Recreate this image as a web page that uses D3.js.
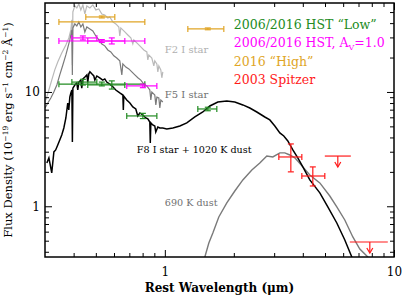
<!DOCTYPE html>
<html>
<head>
<meta charset="utf-8">
<script src="https://cdn.jsdelivr.net/npm/d3@7"></script>
<style>
  html, body { margin: 0; padding: 0; background: #fff; }
  svg text { font-family: "DejaVu Serif", serif; }
</style>
</head>
<body>
<div id="chart"></div>
<script>
// ==============================
// DATA  (wavelength in micron, flux in 1e-19 erg/s/cm2/A)
// ==============================

// model spectra: [wavelength, flux]
const f2Spectrum = [
  [0.3026, 8.5], [0.3118, 10.4], [0.321, 12.7], [0.331, 15.6], [0.341, 18.3], [0.355, 21.9],
  [0.370, 25.8], [0.3813, 29.7], [0.389, 34.9], [0.3929, 42.7], [0.3949, 17.2], [0.3969, 50.1],
  [0.4049, 56.6], [0.413, 54.3], [0.4215, 58.9], [0.430, 52.2], [0.439, 57.7], [0.4477, 48.1],
  [0.4567, 56.6], [0.471, 54.3], [0.4852, 57.7], [0.500, 52.2], [0.5152, 53.2], [0.5311, 48.1],
  [0.547, 47.2], [0.5639, 44.4], [0.575, 45.3], [0.593, 41.0], [0.6111, 39.4], [0.6299, 37.0],
  [0.636, 30.9], [0.6427, 36.3], [0.669, 33.5], [0.6896, 31.5], [0.7107, 29.7], [0.725, 26.3],
  [0.7324, 28.5], [0.7625, 26.3], [0.7856, 24.8], [0.8098, 23.3], [0.8347, 22.4], [0.843, 19.1],
  [0.8514, 21.1], [0.8775, 19.8], [0.8953, 16.9], [0.904, 18.7], [0.923, 17.6], [0.9322, 15.0],
  [0.9415, 16.9], [0.9605, 15.6], [0.9703, 13.3], [0.980, 15.0]
];

const f5Spectrum = [
  [0.300, 7.24], [0.3087, 8.0], [0.3181, 8.86], [0.3278, 10.0], [0.3379, 11.5], [0.348, 14.1],
  [0.3589, 17.2], [0.370, 21.1], [0.377, 24.3], [0.385, 28.5], [0.389, 31.5], [0.3929, 34.9],
  [0.3949, 14.1], [0.3969, 36.3], [0.4049, 39.4], [0.413, 37.8], [0.4215, 41.0], [0.430, 37.0],
  [0.439, 39.4], [0.4477, 33.5], [0.4567, 37.0], [0.471, 35.6], [0.4852, 34.2], [0.500, 30.9],
  [0.5152, 28.5], [0.5311, 26.3], [0.547, 25.3], [0.5639, 23.3], [0.5812, 22.4], [0.599, 20.7],
  [0.617, 19.8], [0.636, 18.7], [0.6492, 14.1], [0.6558, 17.6], [0.6759, 16.5], [0.6966, 15.9],
  [0.7178, 15.0], [0.740, 14.1], [0.7625, 13.3], [0.7856, 12.7], [0.8098, 11.7], [0.8347, 11.3],
  [0.860, 10.4], [0.8688, 8.5], [0.8775, 10.0], [0.904, 9.4], [0.9136, 7.7], [0.923, 9.0],
  [0.9415, 8.86], [0.951, 7.24], [0.9605, 8.5], [0.980, 8.17]
];

const f8DustModel = [
  [0.3056, 2.39], [0.312, 2.65], [0.321, 1.96], [0.328, 2.99], [0.334, 3.11], [0.341, 3.44],
  [0.348, 3.80], [0.355, 4.21], [0.3625, 4.84], [0.370, 5.92], [0.377, 8.0], [0.381, 6.96],
  [0.385, 9.0], [0.389, 9.8], [0.393, 10.4], [0.395, 3.65], [0.397, 10.8], [0.405, 11.5],
  [0.413, 12.0], [0.417, 10.4], [0.4215, 12.2], [0.430, 12.7], [0.434, 10.8], [0.439, 13.0],
  [0.448, 13.5], [0.457, 14.1], [0.461, 12.2], [0.466, 14.4], [0.471, 15.0], [0.480, 14.4],
  [0.490, 13.8], [0.495, 12.7], [0.505, 13.8], [0.520, 13.3], [0.536, 12.7], [0.547, 13.0],
  [0.558, 12.2], [0.575, 11.7], [0.593, 11.1], [0.611, 10.4], [0.636, 9.8], [0.656, 9.4],
  [0.659, 6.96], [0.662, 9.2], [0.682, 8.5], [0.704, 8.0], [0.725, 7.4], [0.747, 7.1],
  [0.762, 6.17], [0.778, 6.55], [0.802, 6.29], [0.826, 5.92], [0.843, 5.81], [0.860, 5.46],
  [0.864, 3.58], [0.869, 5.36], [0.886, 5.14], [0.904, 5.04], [0.913, 4.47], [0.932, 4.94],
  [0.951, 4.84], [0.980, 4.84], [1.020, 4.75], [1.084, 4.84], [1.163, 5.04], [1.247, 5.36],
  [1.352, 6.04], [1.465, 6.68], [1.572, 7.54], [1.703, 8.17], [1.864, 8.34], [2.020, 8.17],
  [2.190, 7.7], [2.349, 7.24], [2.520, 6.68], [2.731, 6.04], [2.872, 5.69], [3.020, 5.04],
  [3.176, 4.38], [3.305, 4.12], [3.441, 3.73], [3.619, 3.11], [3.804, 2.65], [4.001, 2.21],
  [4.292, 1.70], [4.746, 1.31], [5.143, 0.986], [5.629, 0.714], [6.100, 0.507], [6.546, 0.360],
  [6.745, 0.306]
];

const dust690Model = [
  [1.480, 0.326], [1.495, 0.36], [1.556, 0.477], [1.620, 0.584], [1.720, 0.806], [1.864, 1.07],
  [2.020, 1.36], [2.190, 1.70], [2.397, 2.08], [2.597, 2.39], [2.786, 2.75], [2.960, 2.70],
  [3.176, 2.93], [3.339, 2.93], [3.511, 2.81], [3.692, 2.65], [4.001, 2.21], [4.292, 1.88],
  [4.746, 1.60], [5.247, 1.23], [5.629, 0.986], [6.100, 0.759], [6.612, 0.539], [7.094, 0.423],
  [7.688, 0.36], [7.92, 0.33]
];

// photometry: [wave, waveLo, waveHi, flux, fluxLo, fluxHi]
const hstLow = [
  [0.531, 0.345, 0.818, 11.7, 11.3, 12.2],
  [0.439, 0.393, 0.505, 12.2, 11.5, 12.9],
  [0.587, 0.461, 0.669, 11.5, 10.6, 12.5],
  [0.802, 0.682, 0.923, 6.17, 5.85, 6.5],
  [1.540, 1.393, 1.686, 7.1, 6.85, 7.35]
];
const hstAv = [
  [0.531, 0.345, 0.818, 27.9, 27.1, 28.7],
  [0.439, 0.393, 0.505, 29.7, 28.5, 30.9],
  [0.587, 0.461, 0.669, 27.9, 26.3, 29.7],
  [0.802, 0.682, 0.923, 11.3, 10.9, 11.7]
];
const hstHigh = [
  [0.531, 0.345, 0.818, 41.0, 41.0, 41.0],
  [0.531, 0.452, 0.605, 45.3, 44.4, 46.2],
  [1.540, 1.260, 1.809, 35.6, 35.0, 36.3]
];
const spitzer = [
  [3.547, 3.144, 3.961, 2.70, 2.00, 3.51],
  [4.423, 3.961, 4.990, 1.84, 1.505, 2.21]
];
// upper limits: [wave, waveLo, waveHi, flux]
const spitzerLimits = [
  [5.686, 4.990, 6.480, 2.75],
  [7.843, 6.416, 9.396, 0.487]
];

const xMajor = [1, 10];
const xMinor = [0.4, 0.5, 0.6, 0.7, 0.8, 0.9, 2, 3, 4, 5, 6, 7, 8, 9];
const yMajor = [1, 10];
const yMinor = [0.4, 0.5, 0.6, 0.7, 0.8, 0.9, 2, 3, 4, 5, 6, 7, 8, 9, 20, 30, 40, 50];

const colLow = '#228b22';
const colAv = '#ff00ff';
const colHigh = '#e0a526';
const colSpitzer = '#ff1a1a';

// ==============================
// RENDER
// ==============================
const W = 415, H = 297;
const margin = { top: 3, right: 21, bottom: 40, left: 45 };
const width = W - margin.left - margin.right;
const height = H - margin.top - margin.bottom;

const svg = d3.select('#chart').append('svg').attr('width', W).attr('height', H);
svg.append('defs').append('clipPath').attr('id', 'clip')
  .append('rect').attr('width', width).attr('height', height);

const g = svg.append('g').attr('transform', `translate(${margin.left},${margin.top})`);

const x = d3.scaleLog().domain([0.3, 10]).range([0, width]);
const y = d3.scaleLog().domain([0.36, 60]).range([height, 0]);

// model curves
const line = d3.line().x((d) => x(d[0])).y((d) => y(d[1]));
const curves = g.append('g').attr('clip-path', 'url(#clip)').attr('fill', 'none');
curves.append('path').datum(f2Spectrum).attr('d', line).attr('stroke', '#b9b9b9').attr('stroke-width', 1.2);
curves.append('path').datum(f5Spectrum).attr('d', line).attr('stroke', '#7a7a7a').attr('stroke-width', 1.2);
curves.append('path').datum(dust690Model).attr('d', line).attr('stroke', '#7a7a7a').attr('stroke-width', 1.4);
curves.append('path').datum(f8DustModel).attr('d', line).attr('stroke', '#000').attr('stroke-width', 1.5);

// error bars
function drawErrorBars(data, color) {
  const eg = g.append('g').attr('stroke', color).attr('stroke-width', 1.2).attr('fill', 'none');
  data.forEach(([w, wLo, wHi, f, fLo, fHi]) => {
    const cx = x(w), cy = y(f);
    eg.append('line').attr('x1', x(wLo)).attr('x2', x(wHi)).attr('y1', cy).attr('y2', cy);
    [wLo, wHi].forEach((v) => {
      eg.append('line').attr('x1', x(v)).attr('x2', x(v)).attr('y1', cy - 3).attr('y2', cy + 3);
    });
    if (fLo !== fHi) {
      eg.append('line').attr('x1', cx).attr('x2', cx).attr('y1', y(fLo)).attr('y2', y(fHi));
      [fLo, fHi].forEach((v) => {
        eg.append('line').attr('x1', cx - 3).attr('x2', cx + 3).attr('y1', y(v)).attr('y2', y(v));
      });
    }
  });
}
drawErrorBars(hstLow, colLow);
drawErrorBars(hstAv, colAv);
drawErrorBars(hstHigh, colHigh);
drawErrorBars(spitzer, colSpitzer);

// upper limits with arrows
const ul = g.append('g').attr('stroke', colSpitzer).attr('stroke-width', 1.2).attr('fill', 'none');
spitzerLimits.forEach(([w, wLo, wHi, f]) => {
  const cx = x(w), cy = y(f);
  ul.append('line').attr('x1', x(wLo)).attr('x2', x(wHi)).attr('y1', cy).attr('y2', cy);
  ul.append('line').attr('x1', cx).attr('x2', cx).attr('y1', cy).attr('y2', cy + 11);
  ul.append('path').attr('d', `M${cx - 3},${cy + 6}L${cx},${cy + 11}L${cx + 3},${cy + 6}`);
});

// axes (ticks point inward)
function styleAxis(sel) {
  sel.select('.domain').remove();
  sel.selectAll('line').attr('stroke', '#000').attr('stroke-width', 1);
  sel.selectAll('text').attr('font-family', '"DejaVu Serif", serif').attr('font-size', 12).attr('fill', '#000');
}
g.append('g').attr('transform', `translate(0,${height})`)
  .call(d3.axisBottom(x).tickValues(xMajor).tickSize(-7).tickPadding(10).tickFormat(d3.format('d'))).call(styleAxis);
g.append('g').attr('transform', `translate(0,${height})`)
  .call(d3.axisBottom(x).tickValues(xMinor).tickSize(-4).tickFormat('')).call(styleAxis);
g.append('g').call(d3.axisTop(x).tickValues(xMajor).tickSize(-7).tickFormat('')).call(styleAxis);
g.append('g').call(d3.axisTop(x).tickValues(xMinor).tickSize(-4).tickFormat('')).call(styleAxis);
g.append('g')
  .call(d3.axisLeft(y).tickValues(yMajor).tickSize(-7).tickPadding(5).tickFormat(d3.format('d'))).call(styleAxis);
g.append('g').call(d3.axisLeft(y).tickValues(yMinor).tickSize(-4).tickFormat('')).call(styleAxis);
g.append('g').attr('transform', `translate(${width},0)`)
  .call(d3.axisRight(y).tickValues(yMajor).tickSize(-7).tickFormat('')).call(styleAxis);
g.append('g').attr('transform', `translate(${width},0)`)
  .call(d3.axisRight(y).tickValues(yMinor).tickSize(-4).tickFormat('')).call(styleAxis);

// frame
g.append('rect').attr('width', width).attr('height', height)
  .attr('fill', 'none').attr('stroke', '#000').attr('stroke-width', 1.5);

// axis titles
g.append('text')
  .attr('x', width / 2).attr('y', height + 35)
  .attr('text-anchor', 'middle').attr('font-size', 12).attr('font-weight', 'bold')
  .text('Rest Wavelength (\u03bcm)');

const yl = g.append('text')
  .attr('transform', `translate(-33,${height / 2}) rotate(-90)`)
  .attr('text-anchor', 'middle').attr('font-size', 11.5);
[['Flux Density (10', 0], ['\u221219', -4], [' erg s', 4], ['\u22121', -4], [' cm', 4], ['\u22122', -4],
 [' \u00c5', 4], ['\u22121', -4], [')', 4]].forEach(([t, dy]) => {
  yl.append('tspan').attr('dy', dy).attr('font-size', dy < 0 ? 7.5 : 11.5).text(t);
});

// curve annotations
g.append('text').attr('x', x(1.0)).attr('y', y(21.9)).attr('font-size', 10).attr('fill', '#b0b0b0').text('F2 I star');
g.append('text').attr('x', x(1.0)).attr('y', y(8.86)).attr('font-size', 10).attr('fill', '#707070').text('F5 I star');
g.append('text').attr('x', x(0.755)).attr('y', y(2.93)).attr('font-size', 9.6).attr('fill', '#000').text('F8 I star + 1020 K dust');
g.append('text').attr('x', x(1.0)).attr('y', y(1.0)).attr('font-size', 9.6).attr('fill', '#707070').text('690 K dust');

// legend
const legend = g.append('g').attr('transform', `translate(${x(2.0)},0)`).attr('font-size', 12.5);
legend.append('text').attr('y', 26).attr('fill', colLow).text('2006/2016 HST \u201cLow\u201d');
const lgAv = legend.append('text').attr('y', 44).attr('fill', colAv);
lgAv.append('tspan').text('2006/2016 HST, A');
lgAv.append('tspan').attr('dy', 3).attr('font-size', 8).text('V');
lgAv.append('tspan').attr('dy', -3).text('=1.0');
legend.append('text').attr('y', 63).attr('fill', colHigh).text('2016 \u201cHigh\u201d');
legend.append('text').attr('y', 81).attr('fill', colSpitzer).text('2003 Spitzer');
</script>
</body>
</html>
